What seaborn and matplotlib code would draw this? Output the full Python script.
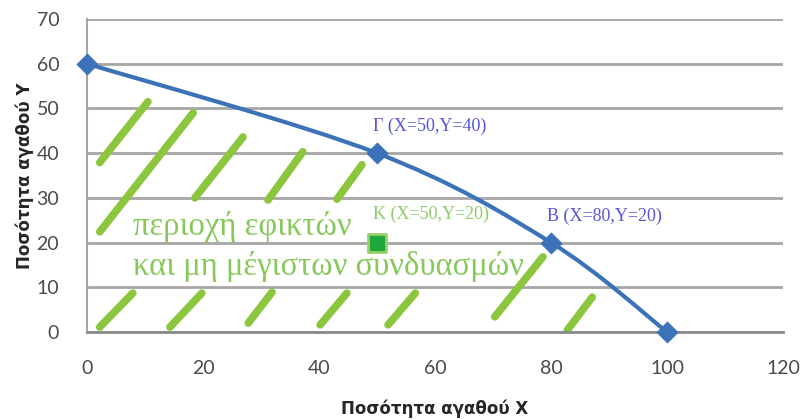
import numpy as np
import pandas as pd
import matplotlib
matplotlib.use("Agg")
import matplotlib.pyplot as plt
from matplotlib.path import Path
from matplotlib.patches import PathPatch
import seaborn as sns

# production possibility frontier points
ppf_x = [0, 50, 80, 100]
ppf_y = [60, 40, 20, 0]
point_labels = ["", "Γ (X=50,Y=40)", "B (X=80,Y=20)", ""]

# feasible, non-maximal point
k_x = [50]
k_y = [20]
k_label = "K (X=50,Y=20)"

region_lines = ["περιοχή εφικτών", "και μη μέγιστων συνδυασμών"]

# decorative hatch strokes (data coords: x0, y0, x1, y1)
hatch_strokes = [
    (2.2, 37.9, 10.5, 51.5),
    (2.2, 22.4, 18.3, 49.0),
    (18.6, 30.0, 26.9, 43.6),
    (31.2, 29.5, 37.2, 40.3),
    (43.1, 29.7, 47.4, 37.4),
    (2.2, 1.1, 7.9, 8.7),
    (14.3, 1.1, 19.8, 8.7),
    (27.8, 2.0, 31.9, 8.9),
    (40.2, 1.6, 44.8, 8.7),
    (51.9, 1.6, 56.6, 8.7),
    (70.3, 3.4, 78.6, 16.8),
    (82.8, 0.4, 87.1, 7.8),
]

sns.set_theme(style="white")
plt.rcParams['font.family'] = ['DejaVu Sans']

fig = plt.figure(figsize=(8.01, 4.20), dpi=100)
ax = fig.add_axes([0.1086, 0.2095, 0.869, 0.7453])

blue = "#3b72b8"
green = "#8cc63e"

ax.set_xlim(0, 120)
ax.set_ylim(0, 70)
ax.set_xticks(range(0, 121, 20))
ax.set_yticks(range(0, 71, 10))
ax.yaxis.grid(True, color="#a6a6a6", linewidth=2)
ax.xaxis.grid(False)
ax.set_axisbelow(True)
for s in ["top", "right"]:
    ax.spines[s].set_visible(False)
ax.spines["left"].set_color("#a6a6a6")
ax.spines["left"].set_linewidth(1.5)
ax.spines["bottom"].set_color("#8a8a8a")
ax.spines["bottom"].set_linewidth(2)
ax.tick_params(axis="both", length=0, labelsize=14, labelcolor="#4a4a4a")
ax.tick_params(axis="x", pad=20)
ax.tick_params(axis="y", pad=20)
for lab in ax.get_xticklabels() + ax.get_yticklabels():
    lab.set_family(["Lato", "DejaVu Sans"])

# hatch strokes
for x0, y0, x1, y1 in hatch_strokes:
    ax.plot([x0, x1], [y0, y1], color=green, linewidth=5.5,
            solid_capstyle="round", zorder=1)

# smoothed frontier (Catmull-Rom rendered as cubic Bezier)
pts = np.column_stack([ppf_x, ppf_y]).astype(float)
verts = [pts[0]]
codes = [Path.MOVETO]
n = len(pts)
for i in range(n - 1):
    p_prev = pts[i - 1] if i > 0 else pts[i]
    p_next2 = pts[i + 2] if i + 2 < n else pts[i + 1]
    c1 = pts[i] + (pts[i + 1] - p_prev) / 6
    c2 = pts[i + 1] - (p_next2 - pts[i]) / 6
    verts += [c1, c2, pts[i + 1]]
    codes += [Path.CURVE4] * 3
ax.add_patch(PathPatch(Path(verts, codes), facecolor="none", edgecolor=blue,
                       linewidth=3, zorder=3, capstyle="round"))

df = pd.DataFrame({"x": ppf_x, "y": ppf_y})
sns.scatterplot(data=df, x="x", y="y", marker="D", s=110, color=blue,
                edgecolor=blue, ax=ax, zorder=4, clip_on=False)

kdf = pd.DataFrame({"x": k_x, "y": k_y})
sns.scatterplot(data=kdf, x="x", y="y", marker="s", s=150, color="#1ea83c",
                edgecolor="#9ccf6a", linewidth=2, ax=ax, zorder=4)

serif = ["Liberation Serif", "DejaVu Serif"]
for x, y, lab in zip(ppf_x, ppf_y, point_labels):
    if lab:
        ax.annotate(lab, (x, y), xytext=(-3, 19), textcoords="offset points",
                    color="#5656d8", fontsize=13, family=serif, ha="left", va="center")
ax.annotate(k_label, (k_x[0], k_y[0]), xytext=(-3, 20), textcoords="offset points",
            color="#8fcb6a", fontsize=13, family=serif, ha="left", va="center")

# the two lines of the region caption
ax.text(7.9, 21.7, region_lines[0], color="#86c95a", fontsize=23.5, family=serif,
        ha="left", va="baseline", zorder=5)
ax.text(7.9, 12.7, region_lines[1], color="#86c95a", fontsize=23.5, family=serif,
        ha="left", va="baseline", zorder=5)

ax.set_xlabel("Ποσότητα αγαθού Χ", fontsize=12, fontweight="bold", color="#262626", labelpad=16)
ax.set_ylabel("Ποσότητα αγαθού Υ", fontsize=12, fontweight="bold", color="#262626", labelpad=2)

fig.savefig("out.png", dpi=100)
